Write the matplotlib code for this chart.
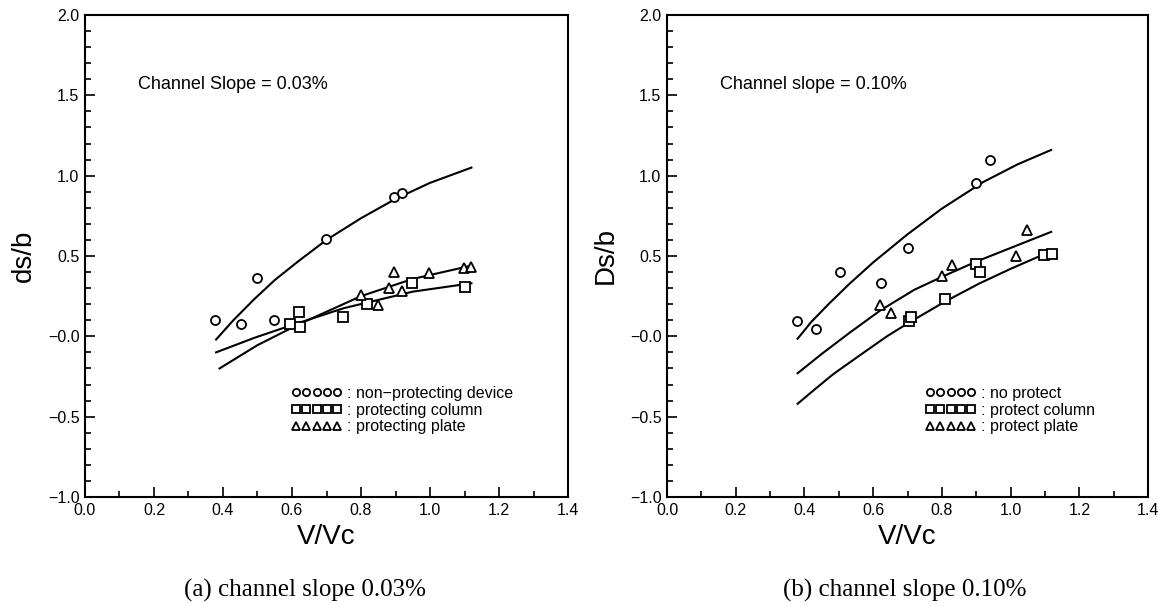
import matplotlib
matplotlib.use("Agg")
import matplotlib.pyplot as plt
from matplotlib.ticker import MultipleLocator, FixedLocator, FixedFormatter

plt.rcParams['font.family'] = ['Liberation Sans', 'DejaVu Sans']

# ---- (a) channel slope 0.03% ----
a_circ_x = [0.377, 0.451, 0.50, 0.549, 0.699, 0.897, 0.918]
a_circ_y = [0.10, 0.078, 0.362, 0.10, 0.606, 0.865, 0.89]
a_sq_x = [0.594, 0.620, 0.623, 0.749, 0.818, 0.949, 1.101]
a_sq_y = [0.077, 0.149, 0.058, 0.12, 0.20, 0.333, 0.305]
a_tri_x = [0.80, 0.848, 0.880, 0.897, 0.918, 0.997, 1.099, 1.12]
a_tri_y = [0.258, 0.196, 0.30, 0.40, 0.28, 0.396, 0.424, 0.43]

# fitted curves
a_fit_circ_x = [0.38, 0.43, 0.49, 0.55, 0.62, 0.70, 0.80, 0.90, 1.00, 1.12]
a_fit_circ_y = [-0.02, 0.10, 0.23, 0.35, 0.47, 0.60, 0.735, 0.855, 0.955, 1.05]
a_fit_sq_x = [0.38, 0.49, 0.60, 0.75, 0.95, 1.12]
a_fit_sq_y = [-0.10, -0.01, 0.07, 0.175, 0.278, 0.33]
a_fit_tri_x = [0.39, 0.50, 0.62, 0.80, 0.95, 1.12]
a_fit_tri_y = [-0.20, -0.055, 0.075, 0.25, 0.357, 0.44]

# ---- (b) channel slope 0.10% ----
b_circ_x = [0.379, 0.433, 0.503, 0.622, 0.70, 0.90, 0.941]
b_circ_y = [0.095, 0.043, 0.40, 0.33, 0.55, 0.955, 1.10]
b_sq_x = [0.704, 0.711, 0.808, 0.90, 0.912, 1.097, 1.12]
b_sq_y = [0.095, 0.12, 0.234, 0.453, 0.40, 0.505, 0.51]
b_tri_x = [0.621, 0.653, 0.80, 0.829, 1.016, 1.049]
b_tri_y = [0.194, 0.147, 0.375, 0.445, 0.50, 0.66]

b_fit_circ_x = [0.38, 0.42, 0.47, 0.53, 0.60, 0.70, 0.80, 0.92, 1.02, 1.118]
b_fit_circ_y = [-0.015, 0.09, 0.20, 0.325, 0.46, 0.635, 0.795, 0.96, 1.07, 1.16]
b_fit_tri_x = [0.38, 0.45, 0.53, 0.62, 0.72, 0.80, 0.90, 1.00, 1.118]
b_fit_tri_y = [-0.23, -0.11, 0.02, 0.16, 0.29, 0.37, 0.465, 0.55, 0.65]
b_fit_sq_x = [0.38, 0.43, 0.484, 0.56, 0.64, 0.704, 0.808, 0.91, 1.00, 1.118]
b_fit_sq_y = [-0.42, -0.33, -0.235, -0.12, 0.0, 0.085, 0.215, 0.33, 0.42, 0.53]

ytick_vals = [-1.0, -0.5, 0.0, 0.5, 1.0, 1.5, 2.0]
ytick_labels = ['\u22121.0', '\u22120.5', '\u22120.0', '0.5', '1.0', '1.5', '2.0']
xtick_vals = [0.0, 0.2, 0.4, 0.6, 0.8, 1.0, 1.2, 1.4]
xtick_labels = ['0.0', '0.2', '0.4', '0.6', '0.8', '1.0', '1.2', '1.4']

fig = plt.figure(figsize=(11.69, 6.06), dpi=100)
ax1 = fig.add_axes([0.0727, 0.1799, 0.4132, 0.7954])
ax2 = fig.add_axes([0.5706, 0.1799, 0.4115, 0.7954])

mk = dict(linestyle='none', markerfacecolor='white', markeredgecolor='black',
          markeredgewidth=1.3, color='black')


def style_axes(ax, ylab):
    ax.set_xlim(0, 1.4)
    ax.set_ylim(-1.0, 2.0)
    ax.xaxis.set_major_locator(FixedLocator(xtick_vals))
    ax.xaxis.set_major_formatter(FixedFormatter(xtick_labels))
    ax.yaxis.set_major_locator(FixedLocator(ytick_vals))
    ax.yaxis.set_major_formatter(FixedFormatter(ytick_labels))
    ax.xaxis.set_minor_locator(MultipleLocator(0.1))
    ax.yaxis.set_minor_locator(MultipleLocator(0.1))
    ax.tick_params(which='both', direction='in', top=False, right=False, width=1.2)
    ax.tick_params(which='major', length=7, labelsize=11.5, pad=4)
    ax.tick_params(which='minor', length=4)
    for s in ax.spines.values():
        s.set_linewidth(1.5)
    ax.set_xlabel('V/Vc', fontsize=20, labelpad=5)
    ax.set_ylabel(ylab, fontsize=20, labelpad=8)


# panel (a)
ax1.plot(a_fit_circ_x, a_fit_circ_y, color='black', lw=1.5)
ax1.plot(a_fit_sq_x, a_fit_sq_y, color='black', lw=1.5)
ax1.plot(a_fit_tri_x, a_fit_tri_y, color='black', lw=1.5)
ax1.plot(a_circ_x, a_circ_y, marker='o', markersize=6.5, label=': non\u2212protecting device', **mk)
ax1.plot(a_sq_x, a_sq_y, marker='s', markersize=6.5, label=': protecting column', **mk)
ax1.plot(a_tri_x, a_tri_y, marker='^', markersize=7.5, label=': protecting plate', **mk)
style_axes(ax1, 'ds/b')
ax1.text(0.11, 0.855, 'Channel Slope = 0.03%', transform=ax1.transAxes,
         fontsize=13, ha='left', va='center')
ax1.legend(loc='upper left', bbox_to_anchor=(0.41, 0.247), numpoints=5,
           frameon=False, fontsize=11.5, handlelength=3.2, handletextpad=0.3,
           labelspacing=0.1, markerscale=0.8, borderpad=0)

# panel (b)
ax2.plot(b_fit_circ_x, b_fit_circ_y, color='black', lw=1.5)
ax2.plot(b_fit_tri_x, b_fit_tri_y, color='black', lw=1.5)
ax2.plot(b_fit_sq_x, b_fit_sq_y, color='black', lw=1.5)
ax2.plot(b_circ_x, b_circ_y, marker='o', markersize=6.5, label=': no protect', **mk)
ax2.plot(b_sq_x, b_sq_y, marker='s', markersize=6.5, label=': protect column', **mk)
ax2.plot(b_tri_x, b_tri_y, marker='^', markersize=7.5, label=': protect plate', **mk)
style_axes(ax2, 'Ds/b')
ax2.text(0.11, 0.855, 'Channel slope = 0.10%', transform=ax2.transAxes,
         fontsize=13, ha='left', va='center')
ax2.legend(loc='upper left', bbox_to_anchor=(0.52, 0.247), numpoints=5,
           frameon=False, fontsize=11.5, handlelength=3.2, handletextpad=0.3,
           labelspacing=0.1, markerscale=0.8, borderpad=0)

fig.text(305 / 1169, 1 - 590 / 606, '(a) channel slope 0.03%', ha='center', va='center',
         fontsize=18, family=['Liberation Serif', 'DejaVu Serif'])
fig.text(905 / 1169, 1 - 590 / 606, '(b) channel slope 0.10%', ha='center', va='center',
         fontsize=18, family=['Liberation Serif', 'DejaVu Serif'])

fig.savefig('out.png', dpi=100)
